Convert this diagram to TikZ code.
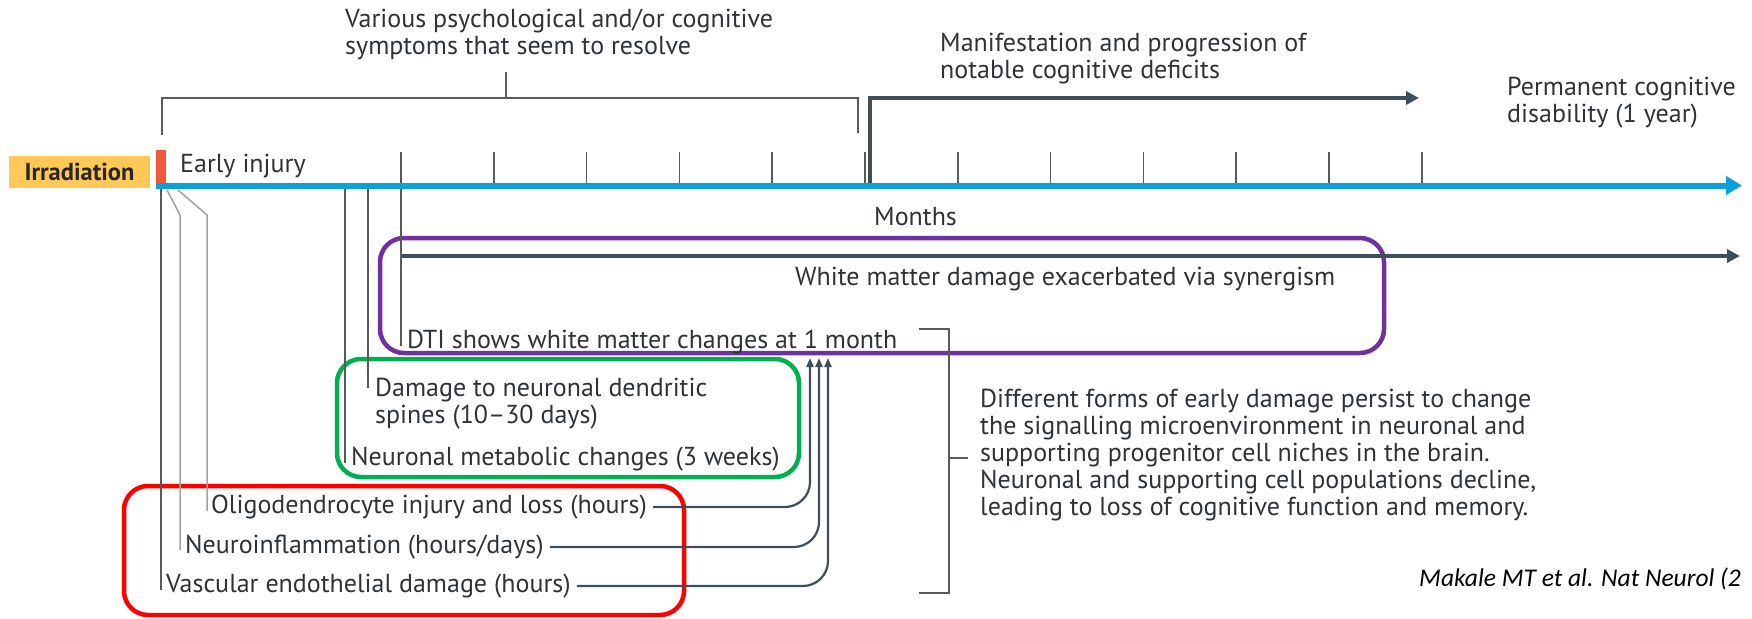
\documentclass[tikz,border=0pt]{standalone}
\usepackage{fontspec}
\setmainfont{PT Sans}
\newfontfamily\citefont{Carlito}
\usetikzlibrary{arrows.meta,calc}
\definecolor{axisblue}{HTML}{0AA0DC}
\definecolor{irrbar}{HTML}{EF5A3A}
\definecolor{irrfill}{HTML}{FFC857}
\definecolor{slate}{HTML}{3F4F5A}
\definecolor{txt}{HTML}{2E3338}
\definecolor{lgray}{HTML}{A0A0A0}
\definecolor{dgray}{HTML}{5A5A5A}
\definecolor{boxpurple}{HTML}{7030A0}
\definecolor{boxgreen}{HTML}{00B050}
\definecolor{boxred}{HTML}{FF0000}
\newcommand{\mytab}[1]{\begin{tabular}[t]{@{}l@{}}#1\end{tabular}}
\begin{document}
\begin{tikzpicture}[x=1pt,y=-1pt,
  lbl/.style={inner sep=0pt, anchor=base west, text=txt, font=\fontsize{26}{27}\selectfont},
  thinline/.style={draw=dgray, line width=1.5pt},
  lightline/.style={draw=lgray, line width=1.5pt},
  darrow/.style={draw=slate, line width=4pt, -{Triangle[length=13pt,width=13pt]}},
  farrow/.style={draw=slate, line width=2.2pt, rounded corners=25pt, -{Triangle[length=9pt,width=7pt]}},
  hbox/.style={rounded corners=24pt, line width=4.5pt}
]
\useasboundingbox (0,0) rectangle (1752,618);

% irradiation
\node[fill=irrfill, minimum width=141pt, minimum height=32pt, inner sep=0pt,
      font=\bfseries\fontsize{24.5}{27}\selectfont, text=black!85] (irr) at (79.5,172) {Irradiation};
\fill[irrbar] (156,150) rectangle (166,185);
\coordinate (ax0) at (156,185.5);
\coordinate (ax1) at (1742,185.5);
\draw[axisblue, line width=6pt, -{Triangle[length=16pt,width=18pt]}] (ax0) -- (ax1);
\node[lbl] (early) at (180,172) {Early injury};

% ticks
\foreach \k in {0,...,11}
  \draw[thinline] ({401+92.8*\k},152) -- ({401+92.8*\k},183);

% top bracket
\node[lbl] (various) at (345,28) {\mytab{Various psychological and/or cognitive\\symptoms that seem to resolve}};
\coordinate (brl) at (162,135);
\coordinate (brr) at (858,133);
\coordinate (brm) at (506,98);
\coordinate (brt) at (506,72);
\draw[thinline] (brl) -- (162,98) -- (858,98) -- (brr);
\draw[thinline] (brm) -- (brt);

% manifestation arrow
\node[lbl] (manif) at (940,52) {\mytab{Manifestation and progression of\\notable cognitive deficits}};
\coordinate (mstart) at (870,183);
\coordinate (mend) at (1419,98);
\draw[darrow] (mstart) |- (mend);
\node[lbl] (perm) at (1507,95) {\mytab{Permanent cognitive\\disability (1 year)}};

\node[lbl] (months) at (874,225) {Months};

% purple region
\draw[boxpurple, hbox] (380,238) rectangle (1384,353);
\coordinate (wstart) at (402,256);
\coordinate (wend) at (1740,256);
\draw[darrow] (wstart) -- (wend);
\node[lbl] (white) at (795,285) {White matter damage exacerbated via synergism};
\node[lbl] (dti) at (407,348) {DTI shows white matter changes at 1 month};
\draw[thinline] (401,189) -- (401,346);

% green region
\draw[boxgreen, hbox] (337,359) rectangle (799,477);
\node[lbl] (dend) at (375,396) {\mytab{Damage to neuronal dendritic\\spines (10–30 days)}};
\node[lbl] (metab) at (351,465) {Neuronal metabolic changes (3 weeks)};
\draw[thinline] (368,189) -- (368,388);
\draw[thinline] (345,189) -- (345,463);

% red region
\draw[boxred, hbox] (124,486) rectangle (684,615);
\node[lbl] (oligo) at (211,513) {Oligodendrocyte injury and loss (hours)};
\node[lbl] (neuro) at (185,553) {Neuroinflammation (hours/days)};
\node[lbl] (vasc) at (166,592) {Vascular endothelial damage (hours)};
\draw[thinline] (161,189) -- (161,590);
\draw[lightline] (167,190) -- (180,215) -- (180,550);
\draw[lightline] (178,190) -- (207,215) -- (207,511);

% feedback arrows
\coordinate (t1) at (810,358);
\coordinate (t2) at (819,358);
\coordinate (t3) at (828,358);
\draw[farrow] ([xshift=6pt,yshift=6pt]oligo.base east) -| (t1);
\draw[farrow] ([xshift=6pt,yshift=6pt]neuro.base east) -| (t2);
\draw[farrow] ([xshift=6pt,yshift=6pt]vasc.base east) -| (t3);

% right bracket and paragraph
\draw[thinline] (919,329) -- (949,329) -- (949,593) -- (919,593);
\node[lbl] (para) at (980,407) {\mytab{Different forms of early damage persist to change\\the signalling microenvironment in neuronal and\\supporting progenitor cell niches in the brain.\\Neuronal and supporting cell populations decline,\\leading to loss of cognitive function and memory.}};
\draw[thinline] (949,458) -- (968,458);

\node[inner sep=0pt, anchor=base west, font=\citefont\itshape\fontsize{25.5}{27}\selectfont, text=black] (cite) at (1419,586) {Makale MT et al. Nat Neurol (2};
\end{tikzpicture}
\end{document}
